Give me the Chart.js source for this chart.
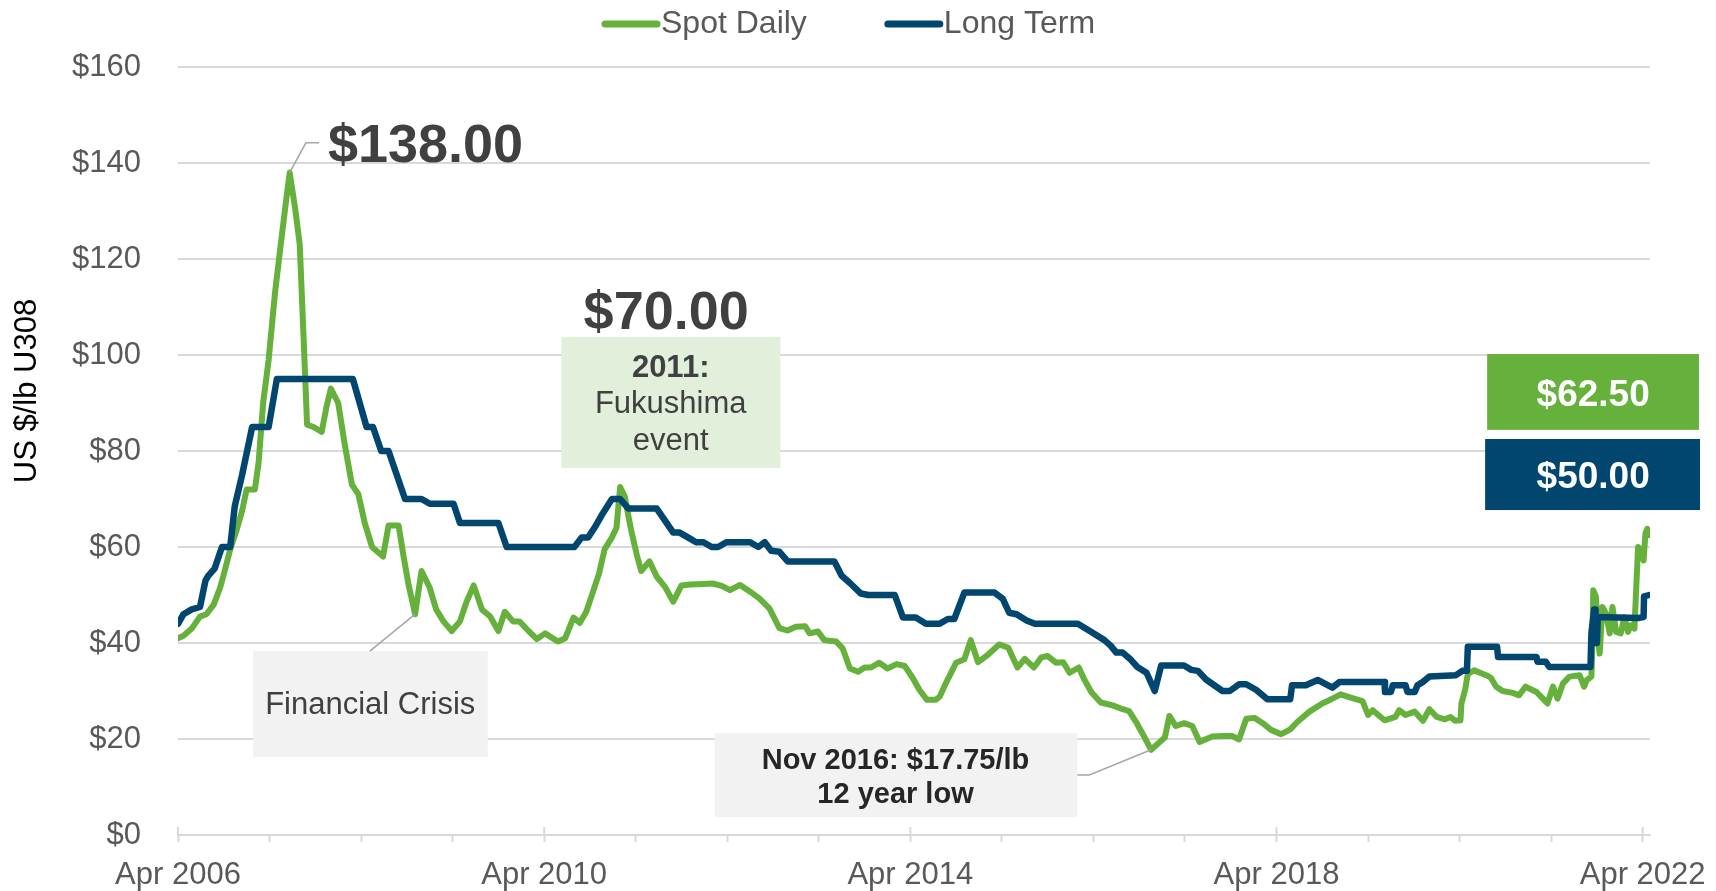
<!DOCTYPE html>
<html>
<head>
<meta charset="utf-8">
<title>Uranium price - Spot vs Long Term</title>
<script src="https://cdn.jsdelivr.net/npm/chart.js@4.4.1/dist/chart.umd.min.js"></script>
<style>
  html, body { margin: 0; padding: 0; background: #ffffff; }
  #wrap { width: 1716px; height: 891px; }
</style>
</head>
<body>
<div id="wrap"><canvas id="priceChart" width="1716" height="891"></canvas></div>
<script>
// x values are decimal years (2006.25 = Apr 2006), prices in US$/lb U3O8
const spotYears = [
  2006.25, 2006.31, 2006.40, 2006.49, 2006.56, 2006.64, 2006.71, 2006.76, 2006.82, 2006.89,
  2006.95, 2007.00, 2007.09, 2007.13, 2007.18, 2007.24, 2007.31, 2007.36, 2007.42, 2007.47,
  2007.53, 2007.58, 2007.62, 2007.66, 2007.73, 2007.82, 2007.87, 2007.92, 2008.00, 2008.07,
  2008.15, 2008.22, 2008.29, 2008.37, 2008.49, 2008.55, 2008.66, 2008.71, 2008.77, 2008.84,
  2008.91, 2009.00, 2009.07, 2009.15, 2009.24, 2009.33, 2009.40, 2009.48, 2009.57, 2009.66,
  2009.75, 2009.82, 2009.91, 2009.98, 2010.08, 2010.17, 2010.26, 2010.40, 2010.48, 2010.57,
  2010.64, 2010.71, 2010.78, 2010.85, 2010.91, 2010.99, 2011.04, 2011.08, 2011.13, 2011.20,
  2011.26, 2011.31, 2011.40, 2011.48, 2011.57, 2011.66, 2011.75, 2011.84, 2011.99, 2012.09,
  2012.19, 2012.28, 2012.39, 2012.50, 2012.60, 2012.71, 2012.82, 2012.91, 2013.00, 2013.10,
  2013.15, 2013.24, 2013.31, 2013.44, 2013.51, 2013.59, 2013.68, 2013.75, 2013.82, 2013.91,
  2014.00, 2014.10, 2014.19, 2014.28, 2014.35, 2014.43, 2014.53, 2014.57, 2014.64, 2014.75,
  2014.84, 2014.91, 2014.99, 2015.10, 2015.22, 2015.32, 2015.42, 2015.50, 2015.60, 2015.68,
  2015.75, 2015.84, 2015.92, 2015.99, 2016.09, 2016.15, 2016.23, 2016.33, 2016.46, 2016.57,
  2016.64, 2016.72, 2016.81, 2016.88, 2017.03, 2017.08, 2017.15, 2017.24, 2017.33, 2017.41,
  2017.55, 2017.66, 2017.77, 2017.84, 2017.92, 2018.01, 2018.10, 2018.19, 2018.30, 2018.35,
  2018.40, 2018.48, 2018.61, 2018.75, 2018.86, 2018.95, 2019.06, 2019.19, 2019.25, 2019.30,
  2019.43, 2019.55, 2019.59, 2019.66, 2019.76, 2019.85, 2019.92, 2020.00, 2020.09, 2020.15,
  2020.20, 2020.26, 2020.27, 2020.31, 2020.34, 2020.41, 2020.54, 2020.59, 2020.65, 2020.72,
  2020.83, 2020.90, 2020.97, 2021.09, 2021.16, 2021.21, 2021.27, 2021.32, 2021.38, 2021.45,
  2021.56, 2021.61, 2021.64, 2021.69, 2021.70, 2021.71, 2021.74, 2021.76, 2021.78, 2021.81,
  2021.85, 2021.89, 2021.92, 2021.96, 2022.01, 2022.05, 2022.09, 2022.12, 2022.16, 2022.18,
  2022.20, 2022.23, 2022.26, 2022.28, 2022.30, 2022.32
];
const spotPrices = [
  41.0, 41.5, 43.0, 45.5, 46.0, 48.0, 51.5, 55.0, 59.5, 63.5,
  67.5, 72.0, 72.0, 77.5, 90.0, 99.0, 113.0, 121.0, 130.5, 138.0,
  130.5, 123.0, 104.5, 85.5, 85.0, 84.0, 89.0, 93.0, 90.0, 81.5,
  73.0, 71.0, 65.0, 60.0, 58.0, 64.5, 64.5, 58.5, 52.0, 46.0,
  55.0, 51.5, 47.0, 44.5, 42.5, 44.5, 48.5, 52.0, 47.0, 45.5,
  42.5, 46.5, 44.5, 44.5, 42.5, 40.8, 42.0, 40.3, 41.0, 45.3,
  44.2, 46.5, 50.5, 54.5, 59.5, 62.0, 64.0, 72.5, 70.5, 63.5,
  58.5, 55.0, 57.0, 53.8, 51.7, 48.6, 52.0, 52.2, 52.3, 52.4,
  51.9, 51.0, 52.1, 50.7, 49.3, 47.2, 43.1, 42.6, 43.4, 43.5,
  42.0, 42.4, 40.6, 40.3, 38.9, 34.7, 34.0, 34.9, 34.9, 35.9,
  34.7, 35.6, 35.2, 32.6, 30.2, 28.2, 28.2, 28.8, 31.7, 35.9,
  36.6, 40.6, 36.0, 37.6, 39.7, 39.0, 34.9, 36.7, 34.9, 37.0,
  37.3, 35.9, 36.0, 33.8, 34.9, 32.4, 29.7, 27.6, 27.0, 26.2,
  25.8, 23.4, 20.3, 17.75, 20.3, 24.8, 22.7, 23.3, 22.7, 19.4,
  20.5, 20.6, 20.6, 19.9, 24.2, 24.4, 23.3, 21.9, 21.0, 21.5,
  22.0, 23.6, 25.7, 27.4, 28.4, 29.3, 28.6, 27.9, 25.0, 26.0,
  23.9, 24.6, 26.0, 25.0, 25.7, 23.8, 26.2, 24.6, 24.1, 24.6,
  23.8, 23.9, 27.4, 30.2, 33.6, 34.3, 33.3, 32.8, 30.9, 30.0,
  29.6, 29.1, 30.9, 29.8, 28.4, 27.4, 30.9, 28.4, 31.6, 33.0,
  33.3, 30.9, 32.3, 33.0, 39.2, 51.0, 49.6, 41.3, 37.8, 47.5,
  46.1, 42.0, 47.5, 42.3, 42.0, 45.4, 42.3, 43.7, 43.0, 51.7,
  60.0, 59.3, 57.2, 62.8, 63.8, 62.5
];

const longYears = [
  2006.25, 2006.31, 2006.40, 2006.49, 2006.55, 2006.58, 2006.65, 2006.73, 2006.82, 2006.87,
  2006.95, 2007.06, 2007.24, 2007.33, 2008.16, 2008.31, 2008.38, 2008.47, 2008.55, 2008.64,
  2008.73, 2008.91, 2009.00, 2009.26, 2009.33, 2009.75, 2009.84, 2010.58, 2010.66, 2010.73,
  2010.80, 2010.89, 2010.99, 2011.08, 2011.17, 2011.48, 2011.57, 2011.66, 2011.73, 2011.82,
  2011.91, 2011.99, 2012.08, 2012.15, 2012.24, 2012.50, 2012.59, 2012.66, 2012.73, 2012.82,
  2012.91, 2013.42, 2013.50, 2013.59, 2013.71, 2013.79, 2014.08, 2014.17, 2014.31, 2014.42,
  2014.57, 2014.66, 2014.73, 2014.84, 2015.17, 2015.26, 2015.33, 2015.41, 2015.52, 2015.61,
  2016.08, 2016.21, 2016.37, 2016.44, 2016.50, 2016.57, 2016.66, 2016.73, 2016.83, 2016.92,
  2016.99, 2017.24, 2017.32, 2017.39, 2017.48, 2017.57, 2017.66, 2017.74, 2017.84, 2017.92,
  2018.03, 2018.15, 2018.40, 2018.42, 2018.57, 2018.70, 2018.86, 2018.94, 2019.43, 2019.435,
  2019.50, 2019.52, 2019.66, 2019.68, 2019.76, 2019.79, 2019.85, 2019.92, 2020.21, 2020.28,
  2020.33, 2020.34, 2020.66, 2020.67, 2021.09, 2021.10, 2021.19, 2021.23, 2021.68, 2021.69,
  2021.72, 2021.73, 2021.735, 2021.75, 2021.76, 2022.20, 2022.26, 2022.265, 2022.32
];
const longPrices = [
  44.0, 46.0, 47.0, 47.5, 53.0, 54.0, 55.5, 60.0, 60.0, 68.5,
  75.0, 85.0, 85.0, 95.0, 95.0, 85.0, 85.0, 80.0, 80.0, 75.0,
  70.0, 70.0, 69.0, 69.0, 65.0, 65.0, 60.0, 60.0, 62.0, 62.0,
  64.0, 67.0, 70.0, 70.0, 68.0, 68.0, 65.5, 63.0, 63.0, 62.0,
  61.0, 61.0, 60.0, 60.0, 61.0, 61.0, 60.0, 61.0, 59.2, 59.0,
  57.0, 57.0, 54.0, 52.5, 50.3, 50.0, 50.0, 45.3, 45.3, 44.0,
  44.0, 45.0, 45.0, 50.5, 50.5, 49.2, 46.3, 46.0, 44.7, 44.0,
  44.0, 42.5, 40.6, 39.4, 38.0, 38.0, 36.5, 35.0, 33.8, 30.0,
  35.3, 35.3, 34.4, 34.2, 32.4, 31.2, 30.0, 30.0, 31.4, 31.4,
  30.2, 28.3, 28.3, 31.2, 31.2, 32.3, 30.7, 31.9, 31.9, 29.8,
  29.8, 31.2, 31.2, 29.8, 29.8, 31.2, 31.9, 33.0, 33.3, 34.2,
  34.2, 39.2, 39.2, 37.1, 37.1, 36.1, 36.1, 35.0, 35.0, 42.0,
  47.0, 47.0, 40.0, 40.0, 45.4, 45.2, 45.4, 49.7, 50.0
];

// yearly ticks on the x axis, only every fourth one is labelled
const tickYears = [2006.25, 2007.25, 2008.25, 2009.25, 2010.25, 2011.25, 2012.25, 2013.25, 2014.25,
                   2015.25, 2016.25, 2017.25, 2018.25, 2019.25, 2020.25, 2021.25, 2022.25];
const labelYears = [2006.25, 2010.25, 2014.25, 2018.25, 2022.25];
const labelTexts = ['Apr 2006', 'Apr 2010', 'Apr 2014', 'Apr 2018', 'Apr 2022'];

const GREEN = '#66b13c';
const NAVY = '#00466f';
const FONT = "'Liberation Sans', Arial, Helvetica, sans-serif";
Chart.defaults.font.family = FONT;

function toPoints(xs, ys) {
    return xs.map((x, i) => ({ x: x, y: ys[i] }));
}

function labelFor(v) {
    const i = labelYears.findIndex(y => Math.abs(y - v) < 1e-6);
    return i >= 0 ? labelTexts[i] : '';
}

// draws the call-outs, the legend, the axis title and the taller major ticks
const decorations = {
    id: 'decorations',
    afterDatasetsDraw(chart) {
        const { ctx, scales: { x, y } } = chart;
        const px = v => x.getPixelForValue(v);
        const py = v => y.getPixelForValue(v);

        ctx.save();

        // major ticks cross the axis line
        ctx.strokeStyle = '#d9d9d9';
        ctx.lineWidth = 2;
        labelYears.forEach(v => {
            ctx.beginPath();
            ctx.moveTo(px(v), chart.chartArea.bottom - 8);
            ctx.lineTo(px(v), chart.chartArea.bottom);
            ctx.stroke();
        });

        function box(x0, x1, v0, v1, fill) {
            ctx.fillStyle = fill;
            ctx.fillRect(px(x0), py(v0), px(x1) - px(x0), py(v1) - py(v0));
        }
        function text(str, xv, yv, font, color, align) {
            ctx.font = font;
            ctx.fillStyle = color;
            ctx.textAlign = align || 'center';
            ctx.textBaseline = 'middle';
            ctx.fillText(str, px(xv), py(yv));
        }
        function leader(points) {
            ctx.strokeStyle = '#a6a6a6';
            ctx.lineWidth = 1.5;
            ctx.beginPath();
            points.forEach((p, i) => {
                if (i === 0) ctx.moveTo(px(p[0]), py(p[1]));
                else ctx.lineTo(px(p[0]), py(p[1]));
            });
            ctx.stroke();
        }

        // peak of the spot price
        const peak = Math.max(...spotPrices);
        const peakYear = spotYears[spotPrices.indexOf(peak)];
        leader([[peakYear, peak], [2007.647, 144.2], [2007.79, 144.2]]);
        text('$' + peak.toFixed(2), 2007.888, 143.3, 'bold 54px ' + FONT, '#404040', 'left');

        // financial crisis
        box(2007.069, 2009.634, 38.3, 16.25, '#f2f2f2');
        leader([[2008.84, 46], [2008.346, 38.3]]);
        text('Financial Crisis', 2008.35, 26.9, '31px ' + FONT, '#404040');

        // Fukushima
        text('$70.00', 2011.583, 108.5, 'bold 54px ' + FONT, '#404040');
        box(2010.437, 2012.831, 103.75, 76.46, '#e2efda');
        text('2011:', 2011.632, 97.1, 'bold 31px ' + FONT, '#404040');
        text('Fukushima', 2011.632, 89.6, '31px ' + FONT, '#404040');
        text('event', 2011.632, 81.9, '31px ' + FONT, '#404040');

        // 12 year low
        const low = Math.min(...spotPrices);
        const lowYear = spotYears[spotPrices.indexOf(low)];
        box(2012.112, 2016.075, 21.25, 3.75, '#f2f2f2');
        leader([[2016.075, 12.5], [2016.206, 12.5], [lowYear, low]]);
        text('Nov 2016: $' + low.toFixed(2) + '/lb', 2014.088, 15.4, 'bold 29px ' + FONT, '#262626');
        text('12 year low', 2014.088, 8.3, 'bold 29px ' + FONT, '#262626');

        // latest values
        const lastSpot = spotPrices[spotPrices.length - 1];
        const lastLong = longPrices[longPrices.length - 1];
        box(2020.551, 2022.865, 100.2, 84.4, GREEN);
        text('$' + lastSpot.toFixed(2), 2021.709, 91.6, 'bold 37px ' + FONT, '#ffffff');
        box(2020.529, 2022.876, 82.5, 67.7, NAVY);
        text('$' + lastLong.toFixed(2), 2021.709, 74.5, 'bold 37px ' + FONT, '#ffffff');

        ctx.restore();
    },
    afterDraw(chart) {
        const ctx = chart.ctx;
        ctx.save();

        // y axis title
        ctx.translate(27, 391);
        ctx.rotate(-Math.PI / 2);
        ctx.font = '31px ' + FONT;
        ctx.fillStyle = '#000000';
        ctx.textAlign = 'center';
        ctx.textBaseline = 'middle';
        ctx.fillText('US $/lb U308', 0, 0);
        ctx.setTransform(1, 0, 0, 1, 0, 0);

        // legend
        let lx = 602;
        const ly = 24;
        ctx.font = '32px ' + FONT;
        ctx.textAlign = 'left';
        ctx.textBaseline = 'middle';
        chart.data.datasets.forEach(ds => {
            ctx.strokeStyle = ds.borderColor;
            ctx.lineWidth = 7;
            ctx.lineCap = 'round';
            ctx.beginPath();
            ctx.moveTo(lx + 3, ly);
            ctx.lineTo(lx + 55, ly);
            ctx.stroke();
            ctx.fillStyle = '#595959';
            ctx.fillText(ds.label, lx + 59, ly);
            lx += 59 + ctx.measureText(ds.label).width + 78;
        });
        ctx.restore();
    }
};

const ctx = document.getElementById('priceChart').getContext('2d');
const priceChart = new Chart(ctx, {
    type: 'line',
    data: {
        datasets: [{
            label: 'Spot Daily',
            data: toPoints(spotYears, spotPrices),
            borderColor: GREEN,
            backgroundColor: GREEN,
            borderWidth: 6,
            borderJoinStyle: 'round',
            borderCapStyle: 'round',
            pointRadius: 0,
            tension: 0,
            order: 1
        }, {
            label: 'Long Term',
            data: toPoints(longYears, longPrices),
            borderColor: NAVY,
            backgroundColor: NAVY,
            borderWidth: 6.5,
            borderJoinStyle: 'round',
            borderCapStyle: 'round',
            pointRadius: 0,
            tension: 0,
            order: 0
        }]
    },
    options: {
        responsive: false,
        animation: false,
        devicePixelRatio: 1,
        layout: { padding: { top: 67, right: 66, bottom: 0, left: 0 } },
        plugins: {
            legend: { display: false },
            tooltip: { enabled: false }
        },
        scales: {
            x: {
                type: 'linear',
                min: 2006.25,
                max: 2022.33,
                afterBuildTicks: scale => {
                    scale.ticks = tickYears.map(v => ({ value: v }));
                },
                afterFit: scale => {
                    scale.height = 56;
                    scale.paddingLeft = 0;
                    scale.paddingRight = 0;
                },
                ticks: {
                    autoSkip: false,
                    maxRotation: 0,
                    padding: 15,
                    color: '#595959',
                    font: { size: 31 },
                    callback: v => labelFor(v)
                },
                grid: {
                    drawOnChartArea: false,
                    drawTicks: true,
                    tickLength: 7,
                    tickColor: '#d9d9d9',
                    tickWidth: 2
                },
                border: { display: true, color: '#d9d9d9', width: 2 }
            },
            y: {
                min: 0,
                max: 160,
                afterFit: scale => { scale.width = 178; },
                ticks: {
                    stepSize: 20,
                    padding: 37,
                    color: '#595959',
                    font: { size: 31 },
                    callback: v => '$' + v
                },
                grid: { color: '#d9d9d9', lineWidth: 2, drawTicks: false },
                border: { display: false }
            }
        }
    },
    plugins: [decorations]
});
</script>
</body>
</html>
